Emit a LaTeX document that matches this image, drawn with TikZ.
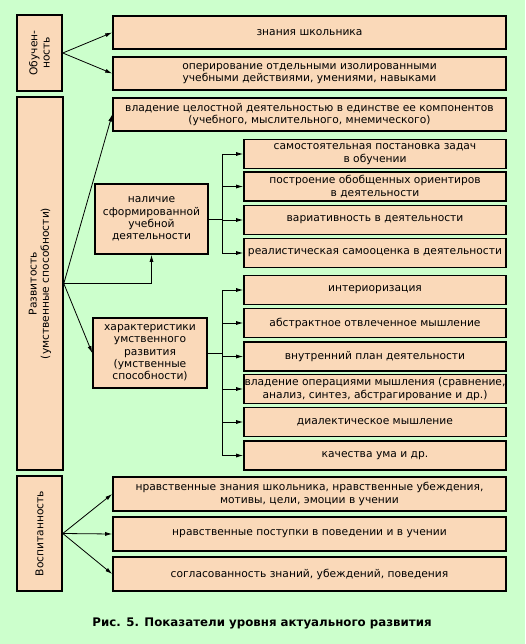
\documentclass[tikz,border=0pt]{standalone}
\usepackage{fontspec}
\setmainfont{DejaVu Sans}
\usetikzlibrary{arrows.meta}
\definecolor{bg}{RGB}{204,255,204}
\definecolor{peach}{RGB}{250,217,185}
\begin{document}
\begin{tikzpicture}[x=1pt,y=-1pt,
  box/.style={draw=black,line width=1.6pt,fill=peach,inner sep=0pt,align=center,font=\fontsize{10.7}{12.3}\selectfont},
  side/.style={box,rotate=90},
  arr/.style={-{Latex[length=7pt,width=4pt]},line width=0.8pt},
  ln/.style={line width=0.8pt}]
\fill[bg] (0,0) rectangle (525,644);
\useasboundingbox (0,0) rectangle (525,644);
% left column
\node[side,minimum width=76pt,minimum height=45pt] (obuch) at (39.5,53) {Обучен-\\ность};
\node[side,minimum width=373pt,minimum height=46pt] (razv) at (40,283.5) {Развитость\\(умственные способности)};
\node[side,minimum width=115pt,minimum height=45pt] (vosp) at (39.5,533.5) {Воспитанность};
% wide boxes
\node[box,minimum width=393pt,minimum height=33pt] (b1) at (309.5,32.5) {знания школьника};
\node[box,minimum width=393pt,minimum height=33pt] (b2) at (309.5,73.5) {оперирование отдельными изолированными\\учебными действиями, умениями, навыками};
\node[box,minimum width=393pt,minimum height=33pt] (b3) at (309.5,114.5) {владение целостной деятельностью в единстве ее компонентов\\(учебного, мыслительного, мнемического)};
\node[box,minimum width=393pt,minimum height=34pt] (b14) at (309.5,494) {нравственные знания школьника, нравственные убеждения,\\мотивы, цели, эмоции в учении};
\node[box,minimum width=393pt,minimum height=34pt] (b15) at (309.5,534) {нравственные поступки в поведении и в учении};
\node[box,minimum width=393pt,minimum height=34pt] (b16) at (309.5,574) {согласованность знаний, убеждений, поведения};
% middle boxes
\node[box,minimum width=113pt,minimum height=70pt] (nal) at (151.5,219) {наличие\\сформированной\\учебной\\деятельности};
\node[box,minimum width=114pt,minimum height=70pt] (har) at (150,353) {характеристики\\умственного\\развития\\(умственные\\способности)};
% sub boxes
\node[box,minimum width=262pt,minimum height=29pt] (s1) at (375,154) {самостоятельная постановка задач\\в обучении};
\node[box,minimum width=262pt,minimum height=29pt] (s2) at (375,186.5) {построение обобщенных ориентиров\\в деятельности};
\node[box,minimum width=262pt,minimum height=29pt] (s3) at (375,220) {вариативность в деятельности};
\node[box,minimum width=262pt,minimum height=29pt] (s4) at (375,253) {реалистическая самооценка в деятельности};
\node[box,minimum width=262pt,minimum height=29pt] (s5) at (375,290) {интериоризация};
\node[box,minimum width=262pt,minimum height=29pt] (s6) at (375,323) {абстрактное отвлеченное мышление};
\node[box,minimum width=262pt,minimum height=29pt] (s7) at (375,356.5) {внутренний план деятельности};
\node[box,minimum width=262pt,minimum height=29pt] (s8) at (375,389) {владение операциями мышления (сравнение,\\анализ, синтез, абстрагирование и др.)};
\node[box,minimum width=262pt,minimum height=29pt] (s9) at (375,422) {диалектическое мышление};
\node[box,minimum width=262pt,minimum height=29pt] (s10) at (375,455.5) {качества ума и др.};
% caption
\node[font=\fontsize{11.8}{13}\selectfont\bfseries] (cap) at (262,623) {Рис. 5. Показатели уровня актуального развития};
% connectors
\draw[arr] (obuch.south) -- (b1.west);
\draw[arr] (obuch.south) -- (b2.west);
\draw[arr] (razv.south) -- (b3.west);
\draw[arr] (razv.south) -| (nal.south);
\draw[arr] (razv.south) -- (har.west);
\draw[arr] (vosp.south) -- (b14.west);
\draw[arr] (vosp.south) -- (b15.west);
\draw[arr] (vosp.south) -- (b16.west);
\coordinate (bus1) at (222,219);
\coordinate (bus2) at (222,353);
\draw[ln] (nal.east) -- (bus1);
\draw[ln] (bus1 |- s1.west) -- (bus1 |- s4.west);
\foreach \s in {s1,s2,s3,s4} \draw[arr] (bus1 |- \s.west) -- (\s.west);
\draw[ln] (har.east) -- (bus2);
\draw[ln] (bus2 |- s5.west) -- (bus2 |- s10.west);
\foreach \s in {s5,s6,s7,s8,s9,s10} \draw[arr] (bus2 |- \s.west) -- (\s.west);
\end{tikzpicture}
\end{document}
